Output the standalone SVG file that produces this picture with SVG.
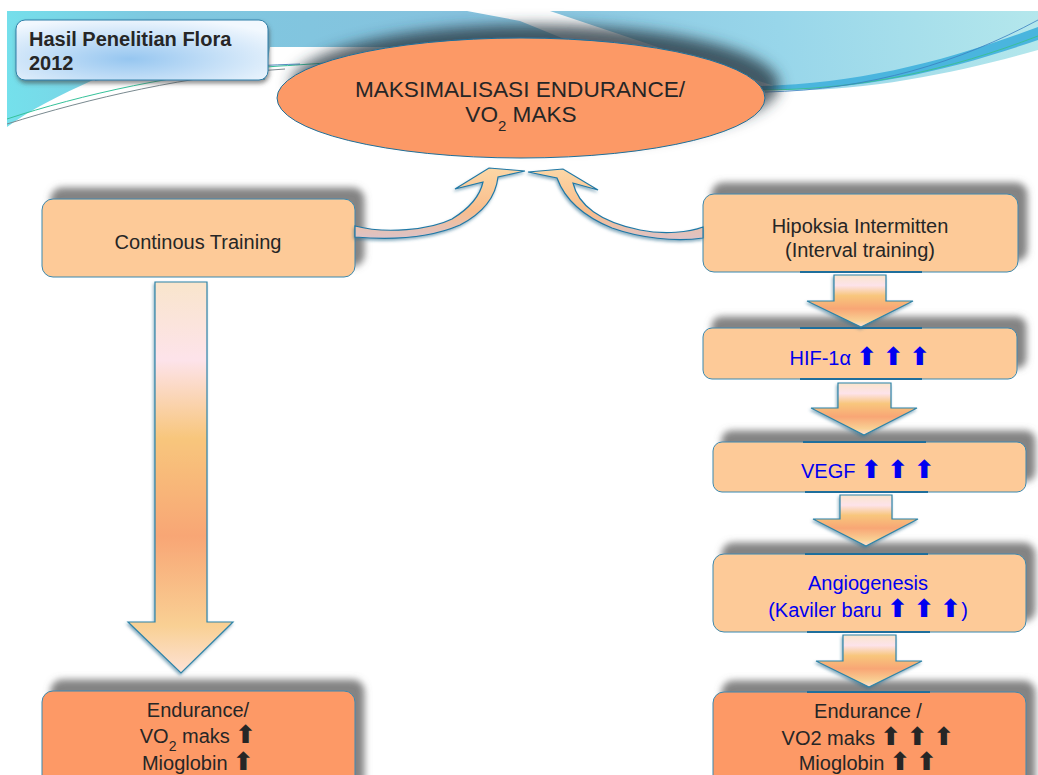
<svg xmlns="http://www.w3.org/2000/svg" width="1038" height="775" viewBox="0 0 1038 775">
<style>
.t{font-family:"Liberation Sans",Arial,sans-serif;font-size:20px;fill:#262626}
.b{fill:#0000f0}
.ar{font-family:"DejaVu Sans",sans-serif;font-weight:bold;font-size:25px}
.box{fill:#fdca98;stroke:#3a88ae;stroke-width:1}
.box2{fill:#fd9966;stroke:#3a88ae;stroke-width:1}
.blk{fill:url(#blockGrad);stroke:#2f84a8;stroke-width:1.2}
.crv{fill:url(#curveGrad);stroke:#1f78a6;stroke-width:1.2}
.jn{stroke:#1f6f9c;stroke-width:2}
</style>
<defs>
<linearGradient id="bandGrad" gradientUnits="userSpaceOnUse" x1="7" y1="127" x2="1038" y2="11">
<stop offset="0" stop-color="#74e1ec"/>
<stop offset="0.15" stop-color="#7ec8e0"/>
<stop offset="0.45" stop-color="#86c2de"/>
<stop offset="0.75" stop-color="#98d6ea"/>
<stop offset="1" stop-color="#b4e7ec"/>
</linearGradient>
<radialGradient id="titleGrad" cx="0.45" cy="0.65" r="0.7">
<stop offset="0" stop-color="#96c6f0"/>
<stop offset="1" stop-color="#f2f8fe"/>
</radialGradient>
<linearGradient id="blockGrad" x1="0" y1="0" x2="0" y2="1">
<stop offset="0" stop-color="#f9e5cc"/>
<stop offset="0.2" stop-color="#fde3ea"/>
<stop offset="0.4" stop-color="#f8c67c"/>
<stop offset="0.65" stop-color="#f8a675"/>
<stop offset="0.88" stop-color="#f9d094"/>
<stop offset="1" stop-color="#fde2d6"/>
</linearGradient>
<linearGradient id="curveGrad" x1="0" y1="0" x2="0" y2="1">
<stop offset="0" stop-color="#fcd7a6"/>
<stop offset="0.6" stop-color="#f9bd8c"/>
<stop offset="1" stop-color="#dcc3c8"/>
</linearGradient>
<filter id="boxSh" x="-10%" y="-40%" width="125%" height="160%">
<feGaussianBlur in="SourceAlpha" stdDeviation="3.5"/>
<feOffset dx="9" dy="-11" result="o"/>
<feFlood flood-color="#767676" flood-opacity="0.9"/>
<feComposite in2="o" operator="in"/>
<feMerge><feMergeNode/><feMergeNode in="SourceGraphic"/></feMerge>
</filter>
<filter id="ellSh" x="-10%" y="-40%" width="125%" height="160%">
<feGaussianBlur in="SourceAlpha" stdDeviation="7"/>
<feOffset dx="14" dy="-13" result="o"/>
<feFlood flood-color="#2a3a44" flood-opacity="0.8"/>
<feComposite in2="o" operator="in"/>
<feMerge><feMergeNode/><feMergeNode in="SourceGraphic"/></feMerge>
</filter>
<filter id="titleSh" x="-10%" y="-20%" width="120%" height="150%">
<feGaussianBlur in="SourceAlpha" stdDeviation="2"/>
<feOffset dx="1" dy="3" result="o"/>
<feFlood flood-color="#444" flood-opacity="0.6"/>
<feComposite in2="o" operator="in"/>
<feMerge><feMergeNode/><feMergeNode in="SourceGraphic"/></feMerge>
</filter>
<filter id="arSh" x="-20%" y="-20%" width="140%" height="140%">
<feGaussianBlur in="SourceAlpha" stdDeviation="1.5"/>
<feOffset dx="-1" dy="2" result="o"/>
<feFlood flood-color="#2f6f90" flood-opacity="0.55"/>
<feComposite in2="o" operator="in"/>
<feMerge><feMergeNode/><feMergeNode in="SourceGraphic"/></feMerge>
</filter>
</defs>

<rect width="1038" height="775" fill="#ffffff"/>

<g id="background">
<path d="M7,11 H1038 V50 C960,72 860,94 765,90 L560,40 L520,47 L270,47 L265,80 L93,80 C60,95 30,110 7,127 Z" fill="url(#bandGrad)"/>
<path d="M467,11 L550,11 L780,88 L700,94 L520,21 Z" fill="#ffffff"/>
<path d="M760,86 C860,84 950,60 1038,27 V40 C950,70 870,90 760,90 Z" fill="#4ab5de"/>
<path d="M760,90 C860,90 950,70 1038,36" fill="none" stroke="#3cbf98" stroke-width="1"/>
<path d="M765,92 C870,90 960,62 1038,20" fill="none" stroke="#3a7fc0" stroke-width="0.8"/>
<path d="M7,119 C80,95 180,72 280,66 C300,65 320,63 350,62" fill="none" stroke="#36c29a" stroke-width="1"/>
<path d="M7,124 C90,98 190,75 285,69" fill="none" stroke="#7a8a90" stroke-width="1"/>
<path d="M95,80 C180,70 240,66 300,64" fill="none" stroke="#2a6fb0" stroke-width="0.8"/>
</g>

<g id="title">
<rect x="16" y="20" width="252" height="60" rx="9" fill="url(#titleGrad)" stroke="#2f7fa8" stroke-width="1" filter="url(#titleSh)"/>
<text class="t" x="29" y="46" style="font-weight:bold">Hasil Penelitian Flora</text>
<text class="t" x="29" y="70" style="font-weight:bold">2012</text>
</g>

<g id="goal">
<ellipse cx="521" cy="98" rx="244" ry="60" fill="#fc9966" stroke="#1d6f9a" stroke-width="1" filter="url(#ellSh)"/>
<text class="t" x="520" y="97" text-anchor="middle" style="font-size:22.6px">MAKSIMALISASI ENDURANCE/</text>
<text class="t" x="521" y="122" text-anchor="middle" style="font-size:22.6px">VO<tspan baseline-shift="sub" style="font-size:15px">2</tspan> MAKS</text>
</g>

<g id="continous">
<rect class="box" x="42" y="199" width="313" height="78" rx="11" filter="url(#boxSh)"/>
<text class="t" x="198" y="249" text-anchor="middle">Continous Training</text>
</g>

<g id="hipoksia">
<rect class="box" x="703" y="194" width="315" height="78" rx="11" filter="url(#boxSh)"/>
<text class="t" x="860" y="233" text-anchor="middle">Hipoksia Intermitten</text>
<text class="t" x="860" y="257" text-anchor="middle">(Interval training)</text>
</g>

<g id="hif">
<rect class="box" x="703" y="328" width="314" height="51" rx="9" filter="url(#boxSh)"/>
<text class="t b" x="860" y="365" text-anchor="middle">HIF-1α <tspan class="ar">⬆</tspan> <tspan class="ar">⬆</tspan> <tspan class="ar">⬆</tspan></text>
</g>

<g id="vegf">
<rect class="box" x="713" y="442" width="313" height="50" rx="9" filter="url(#boxSh)"/>
<text class="t b" x="868" y="478" text-anchor="middle">VEGF <tspan class="ar">⬆</tspan> <tspan class="ar">⬆</tspan> <tspan class="ar">⬆</tspan></text>
</g>

<g id="angiogenesis">
<rect class="box" x="713" y="554" width="313" height="78" rx="11" filter="url(#boxSh)"/>
<text class="t b" x="868" y="590" text-anchor="middle">Angiogenesis</text>
<text class="t b" x="868" y="617" text-anchor="middle">(Kaviler baru <tspan class="ar">⬆</tspan> <tspan class="ar">⬆</tspan> <tspan class="ar">⬆</tspan>)</text>
</g>

<g id="endurance-left">
<rect class="box2" x="42" y="691" width="313" height="110" rx="11" filter="url(#boxSh)"/>
<text class="t" x="198" y="717" text-anchor="middle">Endurance/</text>
<text class="t" x="198" y="743" text-anchor="middle">VO<tspan baseline-shift="sub" style="font-size:14px">2</tspan> maks <tspan class="ar">⬆</tspan></text>
<text class="t" x="198" y="770" text-anchor="middle">Mioglobin <tspan class="ar">⬆</tspan></text>
</g>

<g id="endurance-right">
<rect class="box2" x="713" y="692" width="313" height="110" rx="11" filter="url(#boxSh)"/>
<text class="t" x="868" y="718" text-anchor="middle">Endurance /</text>
<text class="t" x="868" y="745" text-anchor="middle">VO2 maks <tspan class="ar">⬆</tspan> <tspan class="ar">⬆</tspan> <tspan class="ar">⬆</tspan></text>
<text class="t" x="868" y="770" text-anchor="middle">Mioglobin <tspan class="ar">⬆</tspan> <tspan class="ar">⬆</tspan></text>
</g>

<g id="connectors">
<line class="jn" x1="800" y1="272" x2="922" y2="272"/>
<line class="jn" x1="800" y1="328" x2="922" y2="328"/>
<line class="jn" x1="800" y1="379" x2="922" y2="379"/>
<line class="jn" x1="803" y1="442" x2="926" y2="442"/>
<line class="jn" x1="805" y1="492" x2="928" y2="492"/>
<line class="jn" x1="805" y1="554" x2="928" y2="554"/>
<line class="jn" x1="807" y1="632" x2="930" y2="632"/>
<line class="jn" x1="807" y1="692" x2="930" y2="692"/>
<path class="blk" filter="url(#arSh)" d="M155,282 H207 V622 H233 L181,673 L128,622 H155 Z"/>
<path class="blk" filter="url(#arSh)" d="M834,275 H886 V301 H913 L861,327 L807,301 H834 Z"/>
<path class="blk" filter="url(#arSh)" d="M838,383 H891 V408 H917 L864,435 L811,408 H838 Z"/>
<path class="blk" filter="url(#arSh)" d="M840,495 H892 V519 H918 L866,546 L813,519 H840 Z"/>
<path class="blk" filter="url(#arSh)" d="M843,635 H896 V661 H922 L869,687 L816,661 H843 Z"/>
<path class="crv" filter="url(#arSh)" d="M355,226 C385,234 430,230 452,219 C470,208 480,196 483,182 L455,189 L489,168 L525,171 L498,177 C496,195 485,212 460,225 C430,238 390,240 355,237 Z"/>
<path class="crv" filter="url(#arSh)" d="M528,172 L563,169 L598,190 L573,183 C578,205 600,222 640,230 C665,235 690,232 703,227 L703,238 C675,242 640,238 612,228 C585,217 565,200 557,178 Z"/>
</g>
</svg>
